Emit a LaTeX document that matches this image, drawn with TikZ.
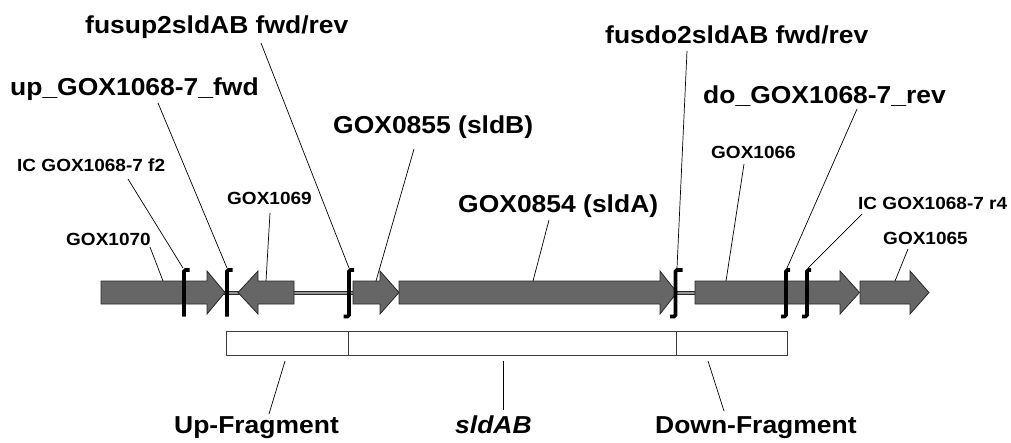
\documentclass[tikz,border=0pt]{standalone}
\usepackage{fontspec}
\setmainfont{Liberation Sans}[FakeStretch=1.08]
\definecolor{genefill}{RGB}{102,102,102}
\definecolor{geneline}{RGB}{40,40,40}
\definecolor{fragline}{RGB}{60,60,60}
\definecolor{linkfill}{RGB}{150,150,150}
\tikzset{
  gene/.style={fill=genefill, draw=geneline, line width=0.8pt, line join=miter},
  brk/.style={line width=3.6pt, rounded corners=1.5pt},
  lbl/.style={font=\bfseries\fontsize{24.5}{28}\selectfont, anchor=base west, inner sep=0pt},
  slbl/.style={font=\bfseries\fontsize{17.6}{20}\selectfont, anchor=base west, inner sep=0pt},
  conn/.style={line width=0.7pt},
  frag/.style={draw=fragline, line width=0.9pt, fill=white},
  linkbar/.style={fill=linkfill, draw=geneline, line width=0.6pt},
}
\newcommand\fwdgene[3]{% start, head base, tip
  \draw[gene] (#1,281) -- (#2,281) -- (#2,271) -- (#3,292.5) -- (#2,314) -- (#2,304) -- (#1,304) -- cycle;}
\newcommand\revgene[3]{% tip, head base, end
  \draw[gene] (#3,281) -- (#2,281) -- (#2,271) -- (#1,292.5) -- (#2,314) -- (#2,304) -- (#3,304) -- cycle;}
\begin{document}
\begin{tikzpicture}[x=1pt,y=-1pt]
\useasboundingbox (0,0) rectangle (1011,442);

% linking double line
\draw[linkbar] (215,291) rectangle (245,294.2);
\draw[linkbar] (285,291) rectangle (360,294.2);
\draw[linkbar] (670,291) rectangle (700,294.2);

% genes
\fwdgene{101}{207}{225}
\revgene{238}{258}{294}
\fwdgene{353}{380}{399}
\fwdgene{399}{660}{677}
\fwdgene{695}{840}{859.5}
\fwdgene{860}{910}{929}

% primer brackets
\draw[brk] (189.5,270) -- (184,270) -- (184,316.5);
\draw[brk] (232.5,270) -- (227,270) -- (227,316.5);
\draw[brk] (354,270) -- (349,270) -- (349,316.5) -- (343.5,316.5);
\draw[brk] (682.5,270) -- (675.5,270) -- (675.5,316.5) -- (670,316.5);
\draw[brk] (790,270) -- (786,270) -- (786,316.5) -- (781,316.5);
\draw[brk] (811,270) -- (807,270) -- (807,316.5) -- (802,316.5);

% fragments
\draw[frag] (226.5,331) rectangle (348,355);
\draw[frag] (348,331) rectangle (676,355);
\draw[frag] (676,331) rectangle (787,355);

% labels
\node[lbl]  (fusup)  at (85,33)   {fusup2sldAB fwd/rev};
\node[lbl]  (upfwd)  at (10,95)   {up\_GOX1068-7\_fwd};
\node[slbl] (icf)    at (17,171)  {IC GOX1068-7 f2};
\node[slbl] (g1070)  at (66,245)  {GOX1070};
\node[slbl] (g1069)  at (227,204) {GOX1069};
\node[lbl]  (g0855)  at (333,133) {GOX0855 (sldB)};
\node[lbl]  (g0854)  at (458,212) {GOX0854 (sldA)};
\node[lbl]  (fusdo)  at (605,43)  {fusdo2sldAB fwd/rev};
\node[lbl]  (dorev)  at (703,103) {do\_GOX1068-7\_rev};
\node[slbl] (g1066)  at (711,158) {GOX1066};
\node[slbl] (icr)    at (858,209) {IC GOX1068-7 r4};
\node[slbl] (g1065)  at (883,244) {GOX1065};
\node[lbl]  (upfrag) at (174,433) {Up-Fragment};
\node[lbl,font=\bfseries\itshape\fontsize{24.5}{28}\selectfont] (sld) at (455,433) {sldAB};
\node[lbl]  (dnfrag) at (655,433) {Down-Fragment};

% connector end points
\coordinate (fusup-a) at (261,43);   \coordinate (fusup-b) at (349,268);
\coordinate (upfwd-a) at (158,103);  \coordinate (upfwd-b) at (227,268);
\coordinate (icf-a)   at (128,179);  \coordinate (icf-b)   at (183,268);
\coordinate (g1070-a) at (150,247);  \coordinate (g1070-b) at (163,281);
\coordinate (g1069-a) at (270,213);  \coordinate (g1069-b) at (266,281);
\coordinate (g0855-a) at (414,149);  \coordinate (g0855-b) at (376,281);
\coordinate (g0854-a) at (549,220);  \coordinate (g0854-b) at (533,281);
\coordinate (fusdo-a) at (687,51);   \coordinate (fusdo-b) at (677,268);
\coordinate (dorev-a) at (857,109);  \coordinate (dorev-b) at (787,268);
\coordinate (g1066-a) at (744,164);  \coordinate (g1066-b) at (726,281);
\coordinate (icr-a)   at (862,214);  \coordinate (icr-b)   at (808,268);
\coordinate (g1065-a) at (908,249);  \coordinate (g1065-b) at (895,281);
\coordinate (upfrag-a) at (285,361); \coordinate (upfrag-b) at (269,414);
\coordinate (sld-a)    at (503,361); \coordinate (sld-b)    at (503,410);
\coordinate (dnfrag-a) at (708,361); \coordinate (dnfrag-b) at (724,411);

\foreach \n in {fusup,upfwd,icf,g1070,g1069,g0855,g0854,fusdo,dorev,g1066,icr,g1065,upfrag,sld,dnfrag}
  \draw[conn] (\n-a) -- (\n-b);
\end{tikzpicture}
\end{document}
